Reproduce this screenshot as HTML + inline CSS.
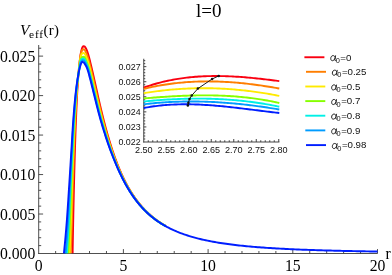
<!DOCTYPE html>
<html><head><meta charset="utf-8"><title>l=0</title>
<style>
html,body{margin:0;padding:0;background:#fff;}
body{width:392px;height:275px;overflow:hidden;}
svg{display:block;will-change:transform;opacity:0.999;}
text{font-family:"Liberation Sans",sans-serif;fill:#111;}
.se{font-family:"Liberation Serif",serif;fill:#000;}
</style></head><body>
<svg width="392" height="275" viewBox="0 0 392 275">
<rect width="392" height="275" fill="#fff"/>

<g>
<line x1="38.70" y1="45.00" x2="38.70" y2="253.95" stroke="#3c3c3c" stroke-width="0.90"/>
<line x1="38.25" y1="253.50" x2="377.60" y2="253.50" stroke="#3c3c3c" stroke-width="0.90"/>
<line x1="38.70" y1="245.60" x2="41.20" y2="245.60" stroke="#3c3c3c" stroke-width="0.90"/>
<line x1="38.70" y1="237.71" x2="41.20" y2="237.71" stroke="#3c3c3c" stroke-width="0.90"/>
<line x1="38.70" y1="229.81" x2="41.20" y2="229.81" stroke="#3c3c3c" stroke-width="0.90"/>
<line x1="38.70" y1="221.92" x2="41.20" y2="221.92" stroke="#3c3c3c" stroke-width="0.90"/>
<line x1="38.70" y1="214.03" x2="43.10" y2="214.03" stroke="#3c3c3c" stroke-width="0.90"/>
<line x1="38.70" y1="206.13" x2="41.20" y2="206.13" stroke="#3c3c3c" stroke-width="0.90"/>
<line x1="38.70" y1="198.24" x2="41.20" y2="198.24" stroke="#3c3c3c" stroke-width="0.90"/>
<line x1="38.70" y1="190.34" x2="41.20" y2="190.34" stroke="#3c3c3c" stroke-width="0.90"/>
<line x1="38.70" y1="182.44" x2="41.20" y2="182.44" stroke="#3c3c3c" stroke-width="0.90"/>
<line x1="38.70" y1="174.55" x2="43.10" y2="174.55" stroke="#3c3c3c" stroke-width="0.90"/>
<line x1="38.70" y1="166.66" x2="41.20" y2="166.66" stroke="#3c3c3c" stroke-width="0.90"/>
<line x1="38.70" y1="158.76" x2="41.20" y2="158.76" stroke="#3c3c3c" stroke-width="0.90"/>
<line x1="38.70" y1="150.87" x2="41.20" y2="150.87" stroke="#3c3c3c" stroke-width="0.90"/>
<line x1="38.70" y1="142.97" x2="41.20" y2="142.97" stroke="#3c3c3c" stroke-width="0.90"/>
<line x1="38.70" y1="135.07" x2="43.10" y2="135.07" stroke="#3c3c3c" stroke-width="0.90"/>
<line x1="38.70" y1="127.18" x2="41.20" y2="127.18" stroke="#3c3c3c" stroke-width="0.90"/>
<line x1="38.70" y1="119.28" x2="41.20" y2="119.28" stroke="#3c3c3c" stroke-width="0.90"/>
<line x1="38.70" y1="111.39" x2="41.20" y2="111.39" stroke="#3c3c3c" stroke-width="0.90"/>
<line x1="38.70" y1="103.50" x2="41.20" y2="103.50" stroke="#3c3c3c" stroke-width="0.90"/>
<line x1="38.70" y1="95.60" x2="43.10" y2="95.60" stroke="#3c3c3c" stroke-width="0.90"/>
<line x1="38.70" y1="87.70" x2="41.20" y2="87.70" stroke="#3c3c3c" stroke-width="0.90"/>
<line x1="38.70" y1="79.81" x2="41.20" y2="79.81" stroke="#3c3c3c" stroke-width="0.90"/>
<line x1="38.70" y1="71.91" x2="41.20" y2="71.91" stroke="#3c3c3c" stroke-width="0.90"/>
<line x1="38.70" y1="64.02" x2="41.20" y2="64.02" stroke="#3c3c3c" stroke-width="0.90"/>
<line x1="38.70" y1="56.12" x2="43.10" y2="56.12" stroke="#3c3c3c" stroke-width="0.90"/>
<line x1="38.70" y1="48.23" x2="41.20" y2="48.23" stroke="#3c3c3c" stroke-width="0.90"/>
<line x1="55.64" y1="253.50" x2="55.64" y2="251.00" stroke="#3c3c3c" stroke-width="0.90"/>
<line x1="72.58" y1="253.50" x2="72.58" y2="251.00" stroke="#3c3c3c" stroke-width="0.90"/>
<line x1="89.52" y1="253.50" x2="89.52" y2="251.00" stroke="#3c3c3c" stroke-width="0.90"/>
<line x1="106.46" y1="253.50" x2="106.46" y2="251.00" stroke="#3c3c3c" stroke-width="0.90"/>
<line x1="123.40" y1="253.50" x2="123.40" y2="249.10" stroke="#3c3c3c" stroke-width="0.90"/>
<line x1="140.34" y1="253.50" x2="140.34" y2="251.00" stroke="#3c3c3c" stroke-width="0.90"/>
<line x1="157.28" y1="253.50" x2="157.28" y2="251.00" stroke="#3c3c3c" stroke-width="0.90"/>
<line x1="174.22" y1="253.50" x2="174.22" y2="251.00" stroke="#3c3c3c" stroke-width="0.90"/>
<line x1="191.16" y1="253.50" x2="191.16" y2="251.00" stroke="#3c3c3c" stroke-width="0.90"/>
<line x1="208.10" y1="253.50" x2="208.10" y2="249.10" stroke="#3c3c3c" stroke-width="0.90"/>
<line x1="225.04" y1="253.50" x2="225.04" y2="251.00" stroke="#3c3c3c" stroke-width="0.90"/>
<line x1="241.98" y1="253.50" x2="241.98" y2="251.00" stroke="#3c3c3c" stroke-width="0.90"/>
<line x1="258.92" y1="253.50" x2="258.92" y2="251.00" stroke="#3c3c3c" stroke-width="0.90"/>
<line x1="275.86" y1="253.50" x2="275.86" y2="251.00" stroke="#3c3c3c" stroke-width="0.90"/>
<line x1="292.80" y1="253.50" x2="292.80" y2="249.10" stroke="#3c3c3c" stroke-width="0.90"/>
<line x1="309.74" y1="253.50" x2="309.74" y2="251.00" stroke="#3c3c3c" stroke-width="0.90"/>
<line x1="326.68" y1="253.50" x2="326.68" y2="251.00" stroke="#3c3c3c" stroke-width="0.90"/>
<line x1="343.62" y1="253.50" x2="343.62" y2="251.00" stroke="#3c3c3c" stroke-width="0.90"/>
<line x1="360.56" y1="253.50" x2="360.56" y2="251.00" stroke="#3c3c3c" stroke-width="0.90"/>
<line x1="377.50" y1="253.50" x2="377.50" y2="249.10" stroke="#3c3c3c" stroke-width="0.90"/>
</g>
<g fill="none" stroke-width="1.95" stroke-linejoin="round" stroke-linecap="butt">
<path d="M72.58 253.30 L72.60 252.01 L72.62 250.72 L72.65 249.43 L72.67 248.14 L72.69 246.85 L72.71 245.56 L72.74 244.27 L72.76 242.98 L72.78 241.69 L72.81 240.39 L72.83 239.10 L72.86 237.81 L72.88 236.52 L72.90 235.23 L72.93 233.94 L72.95 232.65 L72.98 231.36 L73.00 230.07 L73.03 228.78 L73.05 227.49 L73.08 226.20 L73.10 224.91 L73.13 223.62 L73.15 222.33 L73.18 221.04 L73.20 219.75 L73.23 218.46 L73.26 217.17 L73.28 215.87 L73.31 214.58 L73.33 213.29 L73.36 212.00 L73.39 210.71 L73.42 209.42 L73.44 208.13 L73.47 206.84 L73.50 205.55 L73.53 204.26 L73.55 202.97 L73.58 201.68 L73.61 200.39 L73.64 199.10 L73.67 197.81 L73.70 196.52 L73.73 195.23 L73.75 193.94 L73.78 192.65 L73.81 191.36 L73.84 190.07 L73.88 188.78 L73.91 187.49 L73.94 186.19 L73.97 184.90 L74.00 183.61 L74.03 182.32 L74.06 181.03 L74.09 179.74 L74.13 178.45 L74.16 177.16 L74.19 175.87 L74.22 174.58 L74.26 173.29 L74.29 172.00 L74.32 170.71 L74.36 169.42 L74.39 168.13 L74.43 166.84 L74.46 165.55 L74.50 164.26 L74.53 162.97 L74.57 161.68 L74.60 160.39 L74.64 159.10 L74.68 157.81 L74.71 156.52 L74.75 155.23 L74.79 153.94 L74.83 152.65 L74.87 151.36 L74.91 150.07 L74.94 148.78 L74.98 147.49 L75.02 146.20 L75.06 144.91 L75.11 143.62 L75.15 142.33 L75.19 141.04 L75.23 139.75 L75.27 138.46 L75.32 137.17 L75.36 135.88 L75.40 134.59 L75.45 133.30 L75.49 132.01 L75.54 130.72 L75.58 129.43 L75.63 128.14 L75.68 126.85 L75.73 125.56 L75.78 124.27 L75.83 122.98 L75.88 121.69 L75.93 120.40 L75.98 119.11 L76.03 117.82 L76.08 116.53 L76.14 115.24 L76.19 113.95 L76.24 112.66 L76.30 111.37 L76.36 110.08 L76.41 108.79 L76.47 107.50 L76.53 106.21 L76.59 104.92 L76.65 103.63 L76.71 102.34 L76.78 101.05 L76.84 99.76 L76.91 98.48 L76.97 97.19 L77.04 95.90 L77.11 94.61 L77.18 93.32 L77.25 92.03 L77.32 90.74 L77.40 89.45 L77.47 88.17 L77.55 86.88 L77.63 85.59 L77.71 84.30 L77.79 83.01 L77.87 81.72 L77.96 80.43 L78.05 79.15 L78.14 77.86 L78.24 76.57 L78.34 75.28 L78.44 74.00 L78.55 72.71 L78.66 71.43 L78.77 70.14 L78.89 68.86 L79.01 67.57 L79.14 66.28 L79.27 65.00 L79.41 63.71 L79.56 62.43 L79.71 61.14 L79.87 59.86 L80.04 58.58 L80.22 57.30 L80.41 56.02 L80.61 54.75 L80.82 53.48 L81.04 52.21 L81.30 50.95 L81.62 49.69 L82.00 48.46 L82.51 47.24 L83.35 46.23 L84.54 46.46 L85.37 47.46 L86.05 48.57 L86.58 49.73 L87.04 50.94 L87.46 52.17 L87.85 53.40 L88.24 54.63 L88.60 55.87 L88.95 57.12 L89.28 58.36 L89.61 59.61 L89.94 60.86 L90.25 62.11 L90.56 63.37 L90.86 64.62 L91.16 65.88 L91.46 67.13 L91.76 68.39 L92.05 69.65 L92.34 70.90 L92.62 72.16 L92.91 73.42 L93.19 74.68 L93.48 75.94 L93.76 77.20 L94.04 78.46 L94.32 79.72 L94.60 80.98 L94.88 82.24 L95.16 83.50 L95.44 84.76 L95.72 86.02 L96.00 87.28 L96.28 88.54 L96.56 89.80 L96.84 91.06 L97.12 92.32 L97.40 93.58 L97.68 94.84 L97.97 96.10 L98.25 97.36 L98.54 98.61 L98.83 99.87 L99.12 101.13 L99.41 102.39 L99.70 103.65 L99.99 104.90 L100.29 106.16 L100.58 107.42 L100.88 108.67 L101.18 109.93 L101.48 111.18 L101.79 112.44 L102.09 113.69 L102.40 114.94 L102.71 116.20 L103.02 117.45 L103.34 118.70 L103.65 119.95 L103.97 121.20 L104.30 122.45 L104.62 123.70 L104.95 124.95 L105.28 126.20 L105.61 127.45 L105.95 128.69 L106.29 129.94 L106.63 131.18 L106.98 132.42 L107.33 133.67 L107.68 134.91 L108.04 136.15 L108.40 137.39 L108.76 138.63 L109.13 139.86 L109.50 141.10 L109.88 142.34 L110.26 143.57 L110.64 144.80 L111.03 146.03 L111.42 147.26 L111.82 148.49 L112.22 149.72 L112.63 150.94 L113.04 152.16 L113.46 153.39 L113.88 154.61 L114.31 155.82 L114.74 157.04 L115.18 158.25 L115.63 159.46 L116.08 160.67 L116.53 161.88 L117.00 163.09 L117.47 164.29 L117.94 165.49 L118.42 166.69 L118.91 167.88 L119.41 169.07 L119.92 170.26 L120.43 171.44 L120.95 172.63 L121.47 173.80 L122.01 174.98 L122.55 176.15 L123.10 177.32 L123.66 178.48 L124.23 179.64 L124.80 180.79 L125.39 181.94 L125.99 183.09 L126.59 184.23 L127.21 185.37 L127.83 186.50 L128.46 187.62 L129.11 188.74 L129.77 189.85 L130.43 190.95 L131.11 192.05 L131.80 193.15 L132.50 194.23 L133.21 195.31 L133.93 196.38 L134.66 197.44 L135.41 198.49 L136.17 199.54 L136.94 200.57 L137.72 201.60 L138.51 202.62 L139.32 203.62 L140.14 204.62 L140.97 205.61 L141.82 206.58 L142.68 207.55 L143.55 208.50 L144.43 209.44 L145.33 210.37 L146.24 211.28 L147.16 212.19 L148.10 213.08 L149.05 213.95 L150.01 214.82 L150.98 215.66 L151.96 216.50 L152.96 217.32 L153.97 218.13 L154.98 218.92 L156.02 219.70 L157.06 220.46 L158.11 221.21 L159.17 221.94 L160.24 222.66 L161.33 223.36 L162.42 224.05 L163.52 224.72 L164.63 225.38 L165.75 226.02" stroke="#fa0010"/>
<path d="M70.79 253.30 L70.83 252.03 L70.88 250.75 L70.92 249.48 L70.96 248.21 L71.00 246.94 L71.05 245.66 L71.09 244.39 L71.13 243.12 L71.17 241.84 L71.21 240.57 L71.25 239.30 L71.30 238.02 L71.34 236.75 L71.38 235.48 L71.42 234.21 L71.46 232.93 L71.50 231.66 L71.54 230.39 L71.58 229.11 L71.62 227.84 L71.66 226.57 L71.70 225.29 L71.73 224.02 L71.77 222.75 L71.81 221.48 L71.85 220.20 L71.89 218.93 L71.92 217.66 L71.96 216.38 L71.99 215.11 L72.03 213.84 L72.07 212.56 L72.10 211.29 L72.14 210.02 L72.17 208.74 L72.21 207.47 L72.24 206.20 L72.28 204.92 L72.32 203.65 L72.35 202.38 L72.39 201.11 L72.42 199.83 L72.46 198.56 L72.50 197.29 L72.53 196.01 L72.57 194.74 L72.61 193.47 L72.65 192.19 L72.68 190.92 L72.72 189.65 L72.76 188.37 L72.80 187.10 L72.84 185.83 L72.88 184.56 L72.92 183.28 L72.96 182.01 L73.00 180.74 L73.04 179.46 L73.08 178.19 L73.12 176.92 L73.16 175.64 L73.20 174.37 L73.24 173.10 L73.28 171.83 L73.32 170.55 L73.36 169.28 L73.41 168.01 L73.45 166.73 L73.49 165.46 L73.53 164.19 L73.58 162.91 L73.62 161.64 L73.66 160.37 L73.71 159.10 L73.75 157.82 L73.80 156.55 L73.84 155.28 L73.89 154.00 L73.94 152.73 L73.98 151.46 L74.03 150.19 L74.08 148.91 L74.12 147.64 L74.17 146.37 L74.22 145.10 L74.27 143.82 L74.32 142.55 L74.37 141.28 L74.42 140.00 L74.47 138.73 L74.52 137.46 L74.57 136.19 L74.62 134.91 L74.67 133.64 L74.73 132.37 L74.78 131.10 L74.83 129.82 L74.89 128.55 L74.95 127.28 L75.00 126.01 L75.06 124.73 L75.12 123.46 L75.18 122.19 L75.24 120.92 L75.30 119.65 L75.36 118.37 L75.43 117.10 L75.49 115.83 L75.55 114.56 L75.62 113.29 L75.69 112.01 L75.75 110.74 L75.82 109.47 L75.89 108.20 L75.96 106.93 L76.03 105.65 L76.11 104.38 L76.18 103.11 L76.26 101.84 L76.34 100.57 L76.41 99.30 L76.49 98.03 L76.58 96.75 L76.66 95.48 L76.75 94.21 L76.83 92.94 L76.92 91.67 L77.01 90.40 L77.11 89.13 L77.21 87.86 L77.31 86.59 L77.41 85.32 L77.52 84.05 L77.63 82.79 L77.74 81.52 L77.86 80.25 L77.98 78.98 L78.10 77.71 L78.22 76.44 L78.35 75.18 L78.48 73.91 L78.61 72.64 L78.74 71.38 L78.88 70.11 L79.00 68.84 L79.13 67.57 L79.25 66.29 L79.37 65.01 L79.50 63.73 L79.63 62.46 L79.77 61.18 L79.92 59.91 L80.08 58.65 L80.26 57.39 L80.45 56.14 L80.67 54.89 L80.91 53.66 L81.19 52.44 L81.63 51.23 L82.20 50.06 L83.09 49.21 L84.26 49.46 L85.05 50.45 L85.64 51.58 L86.15 52.75 L86.63 53.93 L87.08 55.13 L87.51 56.33 L87.91 57.53 L88.29 58.75 L88.64 59.97 L88.98 61.20 L89.31 62.43 L89.64 63.66 L89.96 64.90 L90.27 66.13 L90.57 67.37 L90.88 68.61 L91.18 69.84 L91.48 71.08 L91.77 72.32 L92.06 73.56 L92.35 74.80 L92.64 76.04 L92.92 77.28 L93.21 78.52 L93.49 79.77 L93.78 81.01 L94.06 82.25 L94.34 83.49 L94.62 84.73 L94.91 85.98 L95.19 87.22 L95.47 88.46 L95.75 89.70 L96.03 90.94 L96.32 92.18 L96.60 93.43 L96.89 94.67 L97.17 95.91 L97.46 97.15 L97.75 98.39 L98.03 99.63 L98.32 100.87 L98.62 102.11 L98.91 103.35 L99.20 104.59 L99.50 105.83 L99.80 107.07 L100.10 108.31 L100.40 109.54 L100.70 110.78 L101.01 112.02 L101.32 113.25 L101.63 114.49 L101.94 115.72 L102.26 116.96 L102.57 118.19 L102.89 119.42 L103.22 120.65 L103.54 121.88 L103.87 123.12 L104.20 124.35 L104.53 125.58 L104.87 126.80 L105.21 128.03 L105.55 129.26 L105.89 130.49 L106.24 131.71 L106.59 132.94 L106.94 134.16 L107.30 135.38 L107.66 136.60 L108.02 137.82 L108.39 139.04 L108.76 140.26 L109.14 141.48 L109.52 142.69 L109.90 143.91 L110.29 145.12 L110.68 146.33 L111.08 147.54 L111.48 148.75 L111.89 149.96 L112.30 151.16 L112.71 152.37 L113.13 153.57 L113.56 154.77 L113.99 155.97 L114.43 157.17 L114.87 158.36 L115.31 159.55 L115.77 160.74 L116.22 161.93 L116.69 163.12 L117.16 164.30 L117.63 165.49 L118.11 166.67 L118.60 167.84 L119.09 169.02 L119.60 170.19 L120.10 171.35 L120.62 172.52 L121.14 173.68 L121.67 174.84 L122.21 175.99 L122.76 177.14 L123.31 178.29 L123.88 179.43 L124.45 180.57 L125.03 181.70 L125.62 182.83 L126.22 183.96 L126.82 185.08 L127.44 186.19 L128.07 187.30 L128.70 188.40 L129.35 189.50 L130.01 190.59 L130.67 191.68 L131.35 192.75 L132.04 193.83 L132.74 194.89 L133.45 195.95 L134.17 197.00 L134.90 198.04 L135.65 199.07 L136.41 200.10 L137.17 201.11 L137.95 202.12 L138.75 203.12 L139.55 204.10 L140.37 205.08 L141.20 206.05 L142.04 207.00 L142.89 207.95 L143.76 208.88 L144.64 209.80 L145.53 210.71 L146.43 211.61 L147.35 212.50 L148.28 213.37 L149.22 214.23 L150.17 215.07 L151.13 215.91 L152.11 216.72 L153.10 217.53 L154.10 218.32 L155.10 219.10 L156.12 219.86 L157.16 220.61 L158.20 221.34 L159.25 222.06 L160.31 222.77 L161.38 223.46 L162.46 224.13 L163.55 224.79 L164.64 225.44 L165.75 226.07" stroke="#ff7e00"/>
<path d="M69.56 253.30 L69.61 252.05 L69.67 250.80 L69.73 249.55 L69.78 248.30 L69.84 247.05 L69.89 245.80 L69.95 244.54 L70.00 243.29 L70.05 242.04 L70.11 240.79 L70.16 239.54 L70.21 238.29 L70.26 237.04 L70.32 235.79 L70.37 234.54 L70.42 233.29 L70.47 232.04 L70.52 230.78 L70.57 229.53 L70.62 228.28 L70.67 227.03 L70.71 225.78 L70.76 224.53 L70.81 223.28 L70.85 222.03 L70.90 220.78 L70.94 219.52 L70.99 218.27 L71.03 217.02 L71.07 215.77 L71.12 214.52 L71.16 213.27 L71.20 212.02 L71.24 210.77 L71.28 209.51 L71.32 208.26 L71.37 207.01 L71.41 205.76 L71.45 204.51 L71.49 203.26 L71.53 202.01 L71.57 200.76 L71.61 199.50 L71.65 198.25 L71.69 197.00 L71.74 195.75 L71.78 194.50 L71.82 193.25 L71.87 192.00 L71.91 190.75 L71.95 189.49 L72.00 188.24 L72.04 186.99 L72.09 185.74 L72.13 184.49 L72.18 183.24 L72.22 181.99 L72.27 180.74 L72.31 179.48 L72.36 178.23 L72.40 176.98 L72.45 175.73 L72.49 174.48 L72.54 173.23 L72.58 171.98 L72.63 170.73 L72.68 169.48 L72.72 168.22 L72.77 166.97 L72.82 165.72 L72.87 164.47 L72.91 163.22 L72.96 161.97 L73.01 160.72 L73.06 159.47 L73.11 158.22 L73.16 156.96 L73.21 155.71 L73.26 154.46 L73.31 153.21 L73.36 151.96 L73.41 150.71 L73.47 149.46 L73.52 148.21 L73.57 146.96 L73.62 145.71 L73.68 144.46 L73.73 143.20 L73.78 141.95 L73.84 140.70 L73.89 139.45 L73.95 138.20 L74.00 136.95 L74.06 135.70 L74.12 134.45 L74.17 133.20 L74.23 131.95 L74.29 130.70 L74.35 129.45 L74.41 128.20 L74.48 126.95 L74.54 125.69 L74.60 124.44 L74.67 123.19 L74.73 121.94 L74.80 120.69 L74.87 119.44 L74.94 118.19 L75.01 116.94 L75.08 115.69 L75.15 114.44 L75.22 113.19 L75.29 111.94 L75.37 110.69 L75.44 109.44 L75.52 108.19 L75.60 106.94 L75.68 105.69 L75.76 104.44 L75.84 103.19 L75.92 101.95 L76.01 100.70 L76.10 99.45 L76.19 98.20 L76.28 96.95 L76.37 95.70 L76.47 94.45 L76.56 93.21 L76.66 91.96 L76.76 90.71 L76.87 89.46 L76.98 88.22 L77.09 86.97 L77.21 85.72 L77.33 84.48 L77.46 83.23 L77.59 81.99 L77.72 80.74 L77.85 79.50 L77.99 78.25 L78.13 77.01 L78.27 75.76 L78.42 74.52 L78.56 73.27 L78.71 72.03 L78.86 70.79 L79.01 69.54 L79.15 68.29 L79.28 67.02 L79.40 65.75 L79.54 64.49 L79.68 63.22 L79.83 61.96 L79.99 60.71 L80.18 59.48 L80.40 58.26 L80.64 57.06 L80.92 55.88 L81.32 54.73 L82.01 53.66 L82.97 52.92 L84.14 53.16 L84.94 54.14 L85.52 55.25 L86.00 56.42 L86.46 57.58 L86.93 58.74 L87.37 59.92 L87.78 61.10 L88.16 62.29 L88.51 63.49 L88.85 64.70 L89.17 65.91 L89.49 67.12 L89.81 68.33 L90.13 69.54 L90.43 70.75 L90.74 71.97 L91.04 73.18 L91.33 74.40 L91.63 75.62 L91.92 76.83 L92.21 78.05 L92.49 79.27 L92.78 80.49 L93.07 81.71 L93.35 82.93 L93.64 84.15 L93.92 85.37 L94.20 86.59 L94.49 87.81 L94.77 89.02 L95.06 90.24 L95.34 91.46 L95.63 92.68 L95.91 93.90 L96.20 95.12 L96.48 96.34 L96.77 97.56 L97.06 98.78 L97.34 100.00 L97.63 101.21 L97.92 102.43 L98.22 103.65 L98.51 104.87 L98.81 106.08 L99.11 107.30 L99.41 108.51 L99.71 109.73 L100.01 110.94 L100.32 112.16 L100.63 113.37 L100.95 114.58 L101.26 115.79 L101.58 117.00 L101.90 118.21 L102.22 119.42 L102.55 120.63 L102.87 121.84 L103.20 123.05 L103.54 124.26 L103.87 125.46 L104.21 126.67 L104.55 127.87 L104.90 129.08 L105.24 130.28 L105.59 131.48 L105.94 132.68 L106.30 133.88 L106.65 135.08 L107.02 136.28 L107.38 137.48 L107.75 138.68 L108.12 139.87 L108.50 141.07 L108.88 142.26 L109.26 143.45 L109.65 144.64 L110.04 145.83 L110.44 147.02 L110.84 148.20 L111.25 149.39 L111.66 150.57 L112.07 151.75 L112.49 152.93 L112.92 154.11 L113.35 155.28 L113.78 156.46 L114.22 157.63 L114.66 158.80 L115.11 159.97 L115.57 161.14 L116.02 162.30 L116.49 163.47 L116.96 164.63 L117.43 165.79 L117.91 166.94 L118.40 168.10 L118.89 169.25 L119.39 170.40 L119.89 171.54 L120.41 172.68 L120.93 173.82 L121.45 174.96 L121.99 176.09 L122.53 177.22 L123.08 178.34 L123.64 179.46 L124.21 180.58 L124.78 181.69 L125.36 182.80 L125.95 183.90 L126.55 185.00 L127.16 186.10 L127.78 187.19 L128.41 188.27 L129.05 189.35 L129.69 190.42 L130.35 191.48 L131.02 192.54 L131.69 193.60 L132.38 194.64 L133.08 195.68 L133.79 196.72 L134.51 197.74 L135.24 198.76 L135.98 199.76 L136.73 200.76 L137.50 201.76 L138.28 202.74 L139.06 203.71 L139.86 204.67 L140.68 205.63 L141.50 206.57 L142.34 207.50 L143.18 208.42 L144.04 209.33 L144.91 210.23 L145.80 211.12 L146.69 212.00 L147.60 212.86 L148.52 213.71 L149.45 214.55 L150.39 215.37 L151.34 216.19 L152.31 216.98 L153.28 217.77 L154.27 218.54 L155.26 219.30 L156.27 220.05 L157.28 220.78 L158.31 221.49 L159.35 222.20 L160.39 222.89 L161.45 223.56 L162.51 224.22 L163.58 224.87 L164.66 225.50 L165.75 226.12" stroke="#ffea00"/>
<path d="M68.19 253.30 L68.26 252.07 L68.33 250.84 L68.40 249.62 L68.47 248.39 L68.54 247.16 L68.61 245.93 L68.68 244.71 L68.75 243.48 L68.82 242.25 L68.88 241.02 L68.95 239.79 L69.01 238.57 L69.08 237.34 L69.14 236.11 L69.20 234.88 L69.27 233.65 L69.33 232.43 L69.39 231.20 L69.45 229.97 L69.51 228.74 L69.57 227.51 L69.63 226.29 L69.68 225.06 L69.74 223.83 L69.80 222.60 L69.85 221.37 L69.90 220.14 L69.96 218.92 L70.01 217.69 L70.06 216.46 L70.11 215.23 L70.16 214.00 L70.21 212.77 L70.26 211.54 L70.31 210.32 L70.35 209.09 L70.40 207.86 L70.45 206.63 L70.49 205.40 L70.54 204.17 L70.59 202.94 L70.64 201.71 L70.68 200.49 L70.73 199.26 L70.78 198.03 L70.83 196.80 L70.87 195.57 L70.92 194.34 L70.97 193.11 L71.02 191.88 L71.07 190.66 L71.12 189.43 L71.17 188.20 L71.22 186.97 L71.27 185.74 L71.32 184.51 L71.38 183.28 L71.43 182.06 L71.48 180.83 L71.53 179.60 L71.58 178.37 L71.63 177.14 L71.68 175.91 L71.73 174.68 L71.78 173.46 L71.83 172.23 L71.89 171.00 L71.94 169.77 L71.99 168.54 L72.04 167.31 L72.09 166.08 L72.15 164.86 L72.20 163.63 L72.25 162.40 L72.31 161.17 L72.36 159.94 L72.42 158.71 L72.47 157.49 L72.53 156.26 L72.58 155.03 L72.64 153.80 L72.70 152.57 L72.75 151.34 L72.81 150.12 L72.87 148.89 L72.93 147.66 L72.98 146.43 L73.04 145.20 L73.10 143.97 L73.16 142.75 L73.22 141.52 L73.28 140.29 L73.34 139.06 L73.40 137.83 L73.46 136.60 L73.52 135.38 L73.58 134.15 L73.64 132.92 L73.71 131.69 L73.77 130.46 L73.84 129.24 L73.90 128.01 L73.97 126.78 L74.04 125.55 L74.11 124.32 L74.18 123.10 L74.25 121.87 L74.32 120.64 L74.40 119.42 L74.47 118.19 L74.55 116.96 L74.63 115.73 L74.71 114.51 L74.78 113.28 L74.86 112.05 L74.95 110.82 L75.03 109.60 L75.11 108.37 L75.20 107.14 L75.29 105.91 L75.37 104.69 L75.46 103.46 L75.56 102.24 L75.65 101.01 L75.75 99.78 L75.84 98.56 L75.94 97.33 L76.05 96.11 L76.15 94.88 L76.26 93.66 L76.37 92.43 L76.48 91.21 L76.59 89.99 L76.71 88.76 L76.84 87.54 L76.96 86.32 L77.10 85.09 L77.23 83.87 L77.37 82.65 L77.52 81.43 L77.67 80.21 L77.82 78.99 L77.98 77.76 L78.13 76.55 L78.30 75.33 L78.46 74.11 L78.63 72.89 L78.80 71.67 L78.97 70.46 L79.13 69.22 L79.28 67.95 L79.42 66.66 L79.57 65.38 L79.73 64.10 L79.91 62.85 L80.12 61.63 L80.38 60.46 L80.68 59.36 L81.05 58.33 L81.90 57.45 L82.94 56.83 L84.12 57.00 L84.95 57.91 L85.51 59.01 L85.95 60.16 L86.39 61.31 L86.86 62.45 L87.31 63.60 L87.73 64.75 L88.11 65.92 L88.46 67.09 L88.79 68.28 L89.11 69.47 L89.42 70.66 L89.74 71.85 L90.05 73.04 L90.35 74.23 L90.65 75.42 L90.95 76.61 L91.25 77.81 L91.54 79.00 L91.83 80.20 L92.12 81.39 L92.41 82.59 L92.69 83.78 L92.98 84.98 L93.26 86.18 L93.55 87.37 L93.83 88.57 L94.12 89.76 L94.40 90.96 L94.69 92.16 L94.97 93.35 L95.26 94.55 L95.55 95.74 L95.83 96.94 L96.12 98.14 L96.41 99.33 L96.70 100.53 L96.99 101.72 L97.28 102.92 L97.57 104.11 L97.86 105.31 L98.16 106.50 L98.45 107.69 L98.75 108.88 L99.05 110.08 L99.36 111.27 L99.67 112.46 L99.98 113.65 L100.29 114.84 L100.61 116.03 L100.93 117.21 L101.25 118.40 L101.57 119.59 L101.90 120.77 L102.23 121.96 L102.56 123.14 L102.90 124.32 L103.24 125.50 L103.58 126.69 L103.92 127.87 L104.27 129.05 L104.62 130.22 L104.97 131.40 L105.33 132.58 L105.68 133.76 L106.04 134.93 L106.40 136.11 L106.77 137.28 L107.14 138.46 L107.51 139.63 L107.88 140.80 L108.26 141.97 L108.65 143.14 L109.04 144.30 L109.43 145.47 L109.83 146.63 L110.23 147.79 L110.64 148.95 L111.05 150.11 L111.46 151.27 L111.88 152.43 L112.31 153.58 L112.74 154.73 L113.17 155.88 L113.61 157.03 L114.05 158.18 L114.50 159.33 L114.95 160.47 L115.40 161.61 L115.86 162.75 L116.33 163.89 L116.80 165.03 L117.27 166.16 L117.75 167.30 L118.23 168.43 L118.72 169.55 L119.22 170.68 L119.72 171.80 L120.23 172.92 L120.75 174.03 L121.27 175.15 L121.80 176.26 L122.34 177.36 L122.89 178.46 L123.44 179.56 L124.00 180.66 L124.57 181.75 L125.15 182.83 L125.73 183.92 L126.32 184.99 L126.93 186.06 L127.54 187.13 L128.16 188.19 L128.78 189.25 L129.42 190.30 L130.07 191.35 L130.72 192.39 L131.39 193.42 L132.06 194.45 L132.75 195.47 L133.44 196.49 L134.15 197.49 L134.87 198.49 L135.60 199.48 L136.34 200.47 L137.09 201.44 L137.85 202.41 L138.62 203.36 L139.40 204.31 L140.20 205.25 L141.00 206.18 L141.82 207.10 L142.65 208.00 L143.49 208.90 L144.34 209.79 L145.20 210.67 L146.08 211.53 L146.96 212.38 L147.86 213.22 L148.77 214.05 L149.69 214.87 L150.62 215.67 L151.56 216.47 L152.51 217.25 L153.47 218.01 L154.44 218.77 L155.43 219.51 L156.42 220.23 L157.42 220.95 L158.43 221.65 L159.45 222.33 L160.48 223.01 L161.52 223.66 L162.56 224.31 L163.62 224.94 L164.68 225.56 L165.75 226.17" stroke="#86ff00"/>
<path d="M66.82 253.30 L66.90 252.08 L66.99 250.87 L67.08 249.65 L67.16 248.44 L67.25 247.22 L67.33 246.00 L67.42 244.79 L67.50 243.57 L67.58 242.35 L67.66 241.14 L67.74 239.92 L67.82 238.70 L67.90 237.49 L67.98 236.27 L68.06 235.05 L68.13 233.84 L68.21 232.62 L68.28 231.40 L68.35 230.19 L68.43 228.97 L68.50 227.75 L68.57 226.54 L68.64 225.32 L68.71 224.10 L68.77 222.89 L68.84 221.67 L68.91 220.45 L68.97 219.23 L69.03 218.02 L69.09 216.80 L69.16 215.58 L69.22 214.36 L69.28 213.15 L69.33 211.93 L69.39 210.71 L69.45 209.49 L69.51 208.28 L69.57 207.06 L69.62 205.84 L69.68 204.62 L69.74 203.40 L69.79 202.19 L69.85 200.97 L69.90 199.75 L69.96 198.53 L70.02 197.31 L70.07 196.10 L70.13 194.88 L70.19 193.66 L70.25 192.44 L70.31 191.23 L70.37 190.01 L70.42 188.79 L70.48 187.57 L70.54 186.36 L70.60 185.14 L70.66 183.92 L70.72 182.70 L70.78 181.48 L70.84 180.27 L70.89 179.05 L70.95 177.83 L71.01 176.61 L71.07 175.40 L71.13 174.18 L71.19 172.96 L71.25 171.74 L71.30 170.53 L71.36 169.31 L71.42 168.09 L71.48 166.87 L71.54 165.65 L71.60 164.44 L71.66 163.22 L71.72 162.00 L71.78 160.78 L71.84 159.57 L71.90 158.35 L71.97 157.13 L72.03 155.91 L72.09 154.70 L72.15 153.48 L72.22 152.26 L72.28 151.04 L72.34 149.83 L72.40 148.61 L72.47 147.39 L72.53 146.17 L72.59 144.96 L72.65 143.74 L72.72 142.52 L72.78 141.30 L72.84 140.09 L72.90 138.87 L72.97 137.65 L73.03 136.43 L73.10 135.22 L73.16 134.00 L73.23 132.78 L73.30 131.56 L73.37 130.35 L73.44 129.13 L73.51 127.91 L73.58 126.70 L73.65 125.48 L73.72 124.26 L73.80 123.05 L73.88 121.83 L73.96 120.61 L74.03 119.40 L74.12 118.18 L74.20 116.96 L74.28 115.75 L74.36 114.53 L74.45 113.31 L74.53 112.10 L74.62 110.88 L74.71 109.66 L74.80 108.45 L74.89 107.23 L74.98 106.02 L75.08 104.80 L75.18 103.58 L75.27 102.37 L75.38 101.15 L75.48 99.94 L75.58 98.72 L75.69 97.51 L75.80 96.30 L75.91 95.08 L76.03 93.87 L76.14 92.66 L76.26 91.45 L76.39 90.23 L76.51 89.02 L76.65 87.81 L76.78 86.60 L76.93 85.39 L77.07 84.18 L77.22 82.97 L77.38 81.76 L77.54 80.55 L77.70 79.34 L77.87 78.13 L78.04 76.92 L78.22 75.71 L78.40 74.51 L78.58 73.30 L78.77 72.10 L78.96 70.90 L79.14 69.68 L79.31 68.44 L79.48 67.18 L79.65 65.92 L79.84 64.68 L80.06 63.46 L80.33 62.28 L80.64 61.16 L81.02 60.11 L81.78 59.17 L82.83 58.58 L83.98 58.82 L84.80 59.76 L85.39 60.84 L85.86 61.96 L86.30 63.10 L86.77 64.23 L87.22 65.36 L87.65 66.50 L88.03 67.66 L88.38 68.82 L88.71 70.00 L89.03 71.18 L89.34 72.36 L89.66 73.53 L89.97 74.71 L90.27 75.89 L90.57 77.08 L90.87 78.26 L91.17 79.44 L91.46 80.62 L91.75 81.81 L92.04 82.99 L92.32 84.18 L92.61 85.36 L92.90 86.55 L93.18 87.73 L93.47 88.92 L93.75 90.10 L94.04 91.29 L94.32 92.47 L94.61 93.66 L94.90 94.84 L95.18 96.03 L95.47 97.21 L95.76 98.40 L96.05 99.58 L96.34 100.77 L96.63 101.95 L96.92 103.13 L97.21 104.32 L97.50 105.50 L97.79 106.68 L98.09 107.87 L98.39 109.05 L98.69 110.23 L99.00 111.41 L99.30 112.59 L99.61 113.77 L99.92 114.95 L100.24 116.13 L100.56 117.30 L100.88 118.48 L101.21 119.65 L101.54 120.83 L101.87 122.00 L102.20 123.17 L102.54 124.34 L102.88 125.51 L103.23 126.68 L103.57 127.85 L103.92 129.02 L104.27 130.19 L104.63 131.35 L104.98 132.52 L105.34 133.69 L105.70 134.85 L106.06 136.01 L106.43 137.18 L106.80 138.34 L107.17 139.50 L107.55 140.66 L107.93 141.82 L108.31 142.97 L108.70 144.13 L109.10 145.28 L109.50 146.43 L109.90 147.59 L110.31 148.73 L110.72 149.88 L111.13 151.03 L111.55 152.17 L111.98 153.32 L112.41 154.46 L112.84 155.60 L113.28 156.73 L113.72 157.87 L114.17 159.00 L114.62 160.14 L115.07 161.27 L115.53 162.40 L115.99 163.52 L116.46 164.65 L116.93 165.77 L117.41 166.90 L117.89 168.02 L118.38 169.14 L118.87 170.25 L119.37 171.36 L119.88 172.47 L120.39 173.58 L120.91 174.68 L121.43 175.78 L121.96 176.88 L122.50 177.97 L123.05 179.06 L123.61 180.15 L124.17 181.23 L124.74 182.31 L125.32 183.38 L125.90 184.45 L126.50 185.51 L127.10 186.57 L127.71 187.63 L128.33 188.68 L128.96 189.72 L129.59 190.76 L130.24 191.80 L130.90 192.82 L131.56 193.85 L132.24 194.86 L132.92 195.87 L133.62 196.87 L134.32 197.86 L135.04 198.85 L135.76 199.83 L136.50 200.80 L137.25 201.76 L138.01 202.72 L138.78 203.66 L139.56 204.60 L140.35 205.53 L141.16 206.44 L141.97 207.35 L142.80 208.25 L143.63 209.13 L144.48 210.01 L145.34 210.87 L146.21 211.73 L147.09 212.57 L147.98 213.40 L148.89 214.22 L149.80 215.03 L150.73 215.82 L151.66 216.60 L152.61 217.37 L153.56 218.13 L154.53 218.87 L155.50 219.61 L156.49 220.32 L157.48 221.03 L158.49 221.72 L159.50 222.40 L160.52 223.06 L161.55 223.72 L162.59 224.36 L163.63 224.98 L164.69 225.59 L165.75 226.19" stroke="#00f0e6"/>
<path d="M65.67 253.30 L65.77 252.09 L65.87 250.89 L65.97 249.68 L66.07 248.48 L66.16 247.27 L66.26 246.06 L66.35 244.86 L66.45 243.65 L66.54 242.45 L66.64 241.24 L66.73 240.03 L66.82 238.83 L66.91 237.62 L67.00 236.41 L67.09 235.21 L67.17 234.00 L67.26 232.79 L67.34 231.59 L67.43 230.38 L67.51 229.17 L67.59 227.97 L67.67 226.76 L67.75 225.55 L67.83 224.35 L67.90 223.14 L67.98 221.93 L68.05 220.72 L68.12 219.52 L68.20 218.31 L68.27 217.10 L68.33 215.89 L68.40 214.69 L68.47 213.48 L68.54 212.27 L68.60 211.06 L68.67 209.85 L68.73 208.65 L68.80 207.44 L68.86 206.23 L68.93 205.02 L68.99 203.81 L69.05 202.61 L69.11 201.40 L69.18 200.19 L69.24 198.98 L69.30 197.77 L69.37 196.57 L69.43 195.36 L69.50 194.15 L69.56 192.94 L69.62 191.73 L69.69 190.52 L69.76 189.32 L69.82 188.11 L69.89 186.90 L69.95 185.69 L70.02 184.48 L70.08 183.28 L70.15 182.07 L70.21 180.86 L70.27 179.65 L70.34 178.44 L70.40 177.24 L70.47 176.03 L70.53 174.82 L70.60 173.61 L70.66 172.40 L70.72 171.20 L70.79 169.99 L70.85 168.78 L70.92 167.57 L70.98 166.36 L71.05 165.16 L71.11 163.95 L71.18 162.74 L71.24 161.53 L71.31 160.32 L71.37 159.12 L71.44 157.91 L71.51 156.70 L71.57 155.49 L71.64 154.28 L71.71 153.08 L71.78 151.87 L71.84 150.66 L71.91 149.45 L71.98 148.25 L72.04 147.04 L72.11 145.83 L72.18 144.62 L72.24 143.41 L72.31 142.21 L72.37 141.00 L72.44 139.79 L72.51 138.58 L72.58 137.37 L72.64 136.17 L72.71 134.96 L72.78 133.75 L72.85 132.54 L72.92 131.33 L73.00 130.13 L73.07 128.92 L73.14 127.71 L73.22 126.50 L73.30 125.30 L73.38 124.09 L73.46 122.88 L73.54 121.68 L73.62 120.47 L73.70 119.26 L73.79 118.06 L73.88 116.85 L73.96 115.64 L74.05 114.44 L74.14 113.23 L74.23 112.02 L74.33 110.82 L74.42 109.61 L74.52 108.40 L74.61 107.20 L74.71 105.99 L74.81 104.78 L74.92 103.58 L75.02 102.37 L75.13 101.17 L75.24 99.96 L75.35 98.76 L75.46 97.55 L75.58 96.35 L75.70 95.15 L75.82 93.94 L75.95 92.74 L76.07 91.54 L76.21 90.34 L76.34 89.14 L76.48 87.94 L76.63 86.73 L76.78 85.53 L76.93 84.33 L77.09 83.13 L77.25 81.93 L77.42 80.73 L77.60 79.53 L77.78 78.34 L77.96 77.14 L78.15 75.94 L78.34 74.75 L78.54 73.56 L78.74 72.36 L78.95 71.17 L79.16 69.98 L79.36 68.76 L79.56 67.53 L79.76 66.30 L80.00 65.09 L80.28 63.91 L80.60 62.77 L81.00 61.70 L81.67 60.70 L82.72 60.12 L83.84 60.50 L84.65 61.42 L85.29 62.46 L85.82 63.54 L86.31 64.65 L86.79 65.77 L87.24 66.89 L87.65 68.03 L88.03 69.17 L88.38 70.33 L88.71 71.49 L89.02 72.66 L89.33 73.84 L89.64 75.00 L89.95 76.17 L90.26 77.34 L90.56 78.52 L90.85 79.69 L91.15 80.86 L91.44 82.04 L91.73 83.21 L92.02 84.39 L92.30 85.56 L92.59 86.74 L92.87 87.91 L93.16 89.09 L93.45 90.26 L93.73 91.44 L94.02 92.62 L94.30 93.79 L94.59 94.97 L94.88 96.14 L95.16 97.32 L95.45 98.49 L95.74 99.67 L96.03 100.84 L96.32 102.02 L96.61 103.19 L96.90 104.36 L97.19 105.54 L97.48 106.71 L97.78 107.89 L98.08 109.06 L98.38 110.23 L98.68 111.40 L98.99 112.57 L99.29 113.74 L99.61 114.91 L99.92 116.08 L100.24 117.25 L100.56 118.41 L100.89 119.58 L101.22 120.74 L101.55 121.90 L101.88 123.07 L102.22 124.23 L102.56 125.39 L102.91 126.55 L103.25 127.71 L103.60 128.87 L103.96 130.02 L104.31 131.18 L104.67 132.33 L105.03 133.49 L105.39 134.64 L105.75 135.80 L106.12 136.95 L106.49 138.10 L106.86 139.25 L107.24 140.40 L107.62 141.55 L108.00 142.70 L108.39 143.85 L108.78 144.99 L109.18 146.13 L109.58 147.27 L109.99 148.41 L110.40 149.55 L110.82 150.69 L111.24 151.82 L111.66 152.95 L112.09 154.09 L112.52 155.21 L112.96 156.34 L113.40 157.47 L113.85 158.59 L114.29 159.72 L114.75 160.84 L115.21 161.96 L115.67 163.08 L116.13 164.19 L116.60 165.31 L117.08 166.42 L117.55 167.53 L118.04 168.64 L118.52 169.75 L119.02 170.85 L119.52 171.95 L120.03 173.05 L120.54 174.15 L121.06 175.24 L121.59 176.33 L122.12 177.41 L122.66 178.50 L123.21 179.58 L123.77 180.65 L124.33 181.72 L124.90 182.79 L125.48 183.85 L126.07 184.91 L126.66 185.96 L127.26 187.01 L127.87 188.05 L128.49 189.09 L129.12 190.13 L129.76 191.16 L130.40 192.18 L131.06 193.20 L131.72 194.21 L132.40 195.21 L133.08 196.21 L133.78 197.20 L134.48 198.18 L135.19 199.16 L135.92 200.13 L136.66 201.09 L137.40 202.04 L138.16 202.98 L138.93 203.92 L139.71 204.85 L140.50 205.76 L141.30 206.67 L142.11 207.57 L142.93 208.45 L143.76 209.33 L144.61 210.20 L145.46 211.05 L146.33 211.90 L147.21 212.73 L148.10 213.55 L148.99 214.36 L149.90 215.16 L150.82 215.94 L151.75 216.72 L152.69 217.48 L153.64 218.23 L154.60 218.96 L155.57 219.69 L156.55 220.40 L157.54 221.10 L158.54 221.78 L159.54 222.45 L160.56 223.11 L161.58 223.76 L162.61 224.39 L163.65 225.01 L164.70 225.62 L165.75 226.21" stroke="#009cff"/>
<path d="M63.94 253.30 L64.13 251.44 L64.31 249.57 L64.50 247.71 L64.68 245.84 L64.86 243.97 L65.04 242.11 L65.21 240.24 L65.38 238.38 L65.55 236.51 L65.72 234.64 L65.88 232.78 L66.04 230.91 L66.20 229.04 L66.35 227.18 L66.50 225.31 L66.65 223.44 L66.79 221.57 L66.93 219.70 L67.07 217.84 L67.20 215.97 L67.33 214.10 L67.46 212.23 L67.59 210.36 L67.72 208.49 L67.84 206.62 L67.96 204.75 L68.08 202.88 L68.21 201.01 L68.33 199.14 L68.45 197.27 L68.57 195.40 L68.69 193.53 L68.81 191.66 L68.93 189.79 L69.05 187.92 L69.18 186.05 L69.30 184.18 L69.42 182.31 L69.53 180.44 L69.65 178.57 L69.77 176.70 L69.89 174.83 L70.00 172.96 L70.12 171.09 L70.24 169.22 L70.35 167.35 L70.47 165.48 L70.59 163.61 L70.70 161.74 L70.82 159.87 L70.93 158.00 L71.05 156.13 L71.17 154.26 L71.28 152.39 L71.40 150.51 L71.51 148.64 L71.63 146.77 L71.74 144.90 L71.85 143.03 L71.96 141.16 L72.06 139.29 L72.17 137.42 L72.29 135.55 L72.40 133.68 L72.51 131.81 L72.63 129.94 L72.75 128.07 L72.87 126.20 L73.00 124.33 L73.13 122.46 L73.27 120.59 L73.41 118.72 L73.55 116.85 L73.69 114.99 L73.84 113.12 L73.99 111.25 L74.15 109.38 L74.31 107.51 L74.47 105.64 L74.64 103.78 L74.81 101.91 L74.99 100.04 L75.18 98.18 L75.37 96.32 L75.57 94.45 L75.78 92.59 L75.99 90.73 L76.21 88.87 L76.44 87.01 L76.68 85.15 L76.93 83.29 L77.20 81.43 L77.48 79.57 L77.78 77.72 L78.09 75.87 L78.42 74.03 L78.78 72.19 L79.15 70.37 L79.56 68.53 L80.02 66.70 L80.57 64.90 L81.22 63.15 L82.39 61.74 L83.92 62.56 L84.94 64.15 L85.91 65.75 L86.72 67.43 L87.40 69.19 L88.00 70.96 L88.53 72.76 L89.02 74.57 L89.50 76.38 L89.98 78.19 L90.45 80.01 L90.92 81.82 L91.38 83.64 L91.83 85.46 L92.27 87.28 L92.72 89.10 L93.16 90.92 L93.61 92.74 L94.06 94.56 L94.51 96.38 L94.96 98.20 L95.41 100.01 L95.86 101.83 L96.31 103.65 L96.77 105.47 L97.23 107.29 L97.69 109.10 L98.16 110.92 L98.63 112.73 L99.11 114.54 L99.60 116.35 L100.10 118.16 L100.61 119.96 L101.13 121.76 L101.65 123.56 L102.19 125.35 L102.73 127.15 L103.28 128.94 L103.83 130.73 L104.39 132.52 L104.96 134.30 L105.53 136.09 L106.11 137.87 L106.70 139.65 L107.29 141.43 L107.89 143.20 L108.50 144.97 L109.13 146.74 L109.76 148.50 L110.41 150.26 L111.07 152.02 L111.74 153.77 L112.41 155.51 L113.10 157.26 L113.80 159.00 L114.51 160.73 L115.23 162.46 L115.95 164.19 L116.69 165.91 L117.43 167.63 L118.19 169.35 L118.96 171.06 L119.74 172.76 L120.54 174.45 L121.36 176.14 L122.19 177.82 L123.04 179.49 L123.90 181.15 L124.79 182.80 L125.69 184.45 L126.61 186.08 L127.55 187.70 L128.51 189.31 L129.50 190.90 L130.50 192.49 L131.52 194.05 L132.57 195.61 L133.64 197.15 L134.74 198.66 L135.86 200.17 L137.01 201.65 L138.18 203.11 L139.38 204.55 L140.60 205.97 L141.85 207.37 L143.13 208.74 L144.43 210.09 L145.76 211.41 L147.11 212.70 L148.49 213.97 L149.90 215.21 L151.33 216.42 L152.78 217.60 L154.26 218.75 L155.77 219.87 L157.29 220.96 L158.84 222.02 L160.40 223.05 L161.99 224.04 L163.60 225.01 L165.22 225.94 L166.86 226.85 L168.52 227.72 L170.19 228.56 L171.88 229.38 L173.58 230.17 L175.30 230.92 L177.02 231.66 L178.76 232.36 L180.50 233.04 L182.26 233.70 L184.02 234.33 L185.80 234.94 L187.58 235.52 L189.36 236.08 L191.16 236.62 L192.96 237.14 L194.76 237.64 L196.57 238.13 L198.39 238.59 L200.21 239.04 L202.03 239.46 L203.86 239.88 L205.69 240.28 L207.53 240.66 L209.36 241.03 L211.20 241.38 L213.05 241.73 L214.89 242.06 L216.74 242.38 L218.59 242.68 L220.44 242.98 L222.29 243.26 L224.14 243.54 L226.00 243.81 L227.85 244.06 L229.71 244.31 L231.57 244.55 L233.43 244.78 L235.29 245.00 L237.15 245.22 L239.01 245.43 L240.88 245.63 L242.74 245.82 L244.60 246.01 L246.47 246.19 L248.34 246.37 L250.20 246.54 L252.07 246.70 L253.94 246.86 L255.80 247.02 L257.67 247.17 L259.54 247.31 L261.41 247.45 L263.28 247.59 L265.15 247.72 L267.02 247.85 L268.88 247.97 L270.75 248.09 L272.63 248.21 L274.50 248.32 L276.37 248.43 L278.24 248.54 L280.11 248.64 L281.98 248.74 L283.85 248.84 L285.72 248.94 L287.59 249.03 L289.47 249.12 L291.34 249.21 L293.21 249.29 L295.08 249.37 L296.95 249.45 L298.83 249.53 L300.70 249.61 L302.57 249.68 L304.44 249.76 L306.32 249.83 L308.19 249.89 L310.06 249.96 L311.93 250.03 L313.81 250.09 L315.68 250.15 L317.55 250.21 L319.42 250.27 L321.30 250.33 L323.17 250.38 L325.04 250.44 L326.92 250.49 L328.79 250.54 L330.66 250.59 L332.54 250.64 L334.41 250.69 L336.28 250.74 L338.16 250.78 L340.03 250.83 L341.90 250.87 L343.78 250.91 L345.65 250.95 L347.52 250.99 L349.40 251.03 L351.27 251.07 L353.14 251.11 L355.02 251.15 L356.89 251.18 L358.76 251.22 L360.64 251.25 L362.51 251.29 L364.38 251.32 L366.26 251.35 L368.13 251.39 L370.01 251.42 L371.88 251.45 L373.75 251.48 L375.63 251.51 L377.50 251.53" stroke="#001eff"/>
</g>
<g>
<line x1="143.75" y1="58.75" x2="143.75" y2="142.47" stroke="#3c3c3c" stroke-width="0.95"/>
<line x1="143.28" y1="142.00" x2="279.40" y2="142.00" stroke="#3c3c3c" stroke-width="0.95"/>
<line x1="143.75" y1="138.99" x2="145.25" y2="138.99" stroke="#3c3c3c" stroke-width="0.95"/>
<line x1="143.75" y1="135.97" x2="145.25" y2="135.97" stroke="#3c3c3c" stroke-width="0.95"/>
<line x1="143.75" y1="132.96" x2="145.25" y2="132.96" stroke="#3c3c3c" stroke-width="0.95"/>
<line x1="143.75" y1="129.94" x2="145.25" y2="129.94" stroke="#3c3c3c" stroke-width="0.95"/>
<line x1="143.75" y1="126.93" x2="146.35" y2="126.93" stroke="#3c3c3c" stroke-width="0.95"/>
<line x1="143.75" y1="123.92" x2="145.25" y2="123.92" stroke="#3c3c3c" stroke-width="0.95"/>
<line x1="143.75" y1="120.90" x2="145.25" y2="120.90" stroke="#3c3c3c" stroke-width="0.95"/>
<line x1="143.75" y1="117.89" x2="145.25" y2="117.89" stroke="#3c3c3c" stroke-width="0.95"/>
<line x1="143.75" y1="114.87" x2="145.25" y2="114.87" stroke="#3c3c3c" stroke-width="0.95"/>
<line x1="143.75" y1="111.86" x2="146.35" y2="111.86" stroke="#3c3c3c" stroke-width="0.95"/>
<line x1="143.75" y1="108.85" x2="145.25" y2="108.85" stroke="#3c3c3c" stroke-width="0.95"/>
<line x1="143.75" y1="105.83" x2="145.25" y2="105.83" stroke="#3c3c3c" stroke-width="0.95"/>
<line x1="143.75" y1="102.82" x2="145.25" y2="102.82" stroke="#3c3c3c" stroke-width="0.95"/>
<line x1="143.75" y1="99.80" x2="145.25" y2="99.80" stroke="#3c3c3c" stroke-width="0.95"/>
<line x1="143.75" y1="96.79" x2="146.35" y2="96.79" stroke="#3c3c3c" stroke-width="0.95"/>
<line x1="143.75" y1="93.78" x2="145.25" y2="93.78" stroke="#3c3c3c" stroke-width="0.95"/>
<line x1="143.75" y1="90.76" x2="145.25" y2="90.76" stroke="#3c3c3c" stroke-width="0.95"/>
<line x1="143.75" y1="87.75" x2="145.25" y2="87.75" stroke="#3c3c3c" stroke-width="0.95"/>
<line x1="143.75" y1="84.73" x2="145.25" y2="84.73" stroke="#3c3c3c" stroke-width="0.95"/>
<line x1="143.75" y1="81.72" x2="146.35" y2="81.72" stroke="#3c3c3c" stroke-width="0.95"/>
<line x1="143.75" y1="78.71" x2="145.25" y2="78.71" stroke="#3c3c3c" stroke-width="0.95"/>
<line x1="143.75" y1="75.69" x2="145.25" y2="75.69" stroke="#3c3c3c" stroke-width="0.95"/>
<line x1="143.75" y1="72.68" x2="145.25" y2="72.68" stroke="#3c3c3c" stroke-width="0.95"/>
<line x1="143.75" y1="69.66" x2="145.25" y2="69.66" stroke="#3c3c3c" stroke-width="0.95"/>
<line x1="143.75" y1="66.65" x2="146.35" y2="66.65" stroke="#3c3c3c" stroke-width="0.95"/>
<line x1="143.75" y1="63.64" x2="145.25" y2="63.64" stroke="#3c3c3c" stroke-width="0.95"/>
<line x1="143.75" y1="60.62" x2="145.25" y2="60.62" stroke="#3c3c3c" stroke-width="0.95"/>
<line x1="148.25" y1="142.00" x2="148.25" y2="140.25" stroke="#3c3c3c" stroke-width="0.95"/>
<line x1="152.75" y1="142.00" x2="152.75" y2="140.25" stroke="#3c3c3c" stroke-width="0.95"/>
<line x1="157.25" y1="142.00" x2="157.25" y2="140.25" stroke="#3c3c3c" stroke-width="0.95"/>
<line x1="161.75" y1="142.00" x2="161.75" y2="140.25" stroke="#3c3c3c" stroke-width="0.95"/>
<line x1="166.25" y1="142.00" x2="166.25" y2="139.00" stroke="#3c3c3c" stroke-width="0.95"/>
<line x1="170.75" y1="142.00" x2="170.75" y2="140.25" stroke="#3c3c3c" stroke-width="0.95"/>
<line x1="175.25" y1="142.00" x2="175.25" y2="140.25" stroke="#3c3c3c" stroke-width="0.95"/>
<line x1="179.75" y1="142.00" x2="179.75" y2="140.25" stroke="#3c3c3c" stroke-width="0.95"/>
<line x1="184.25" y1="142.00" x2="184.25" y2="140.25" stroke="#3c3c3c" stroke-width="0.95"/>
<line x1="188.75" y1="142.00" x2="188.75" y2="139.00" stroke="#3c3c3c" stroke-width="0.95"/>
<line x1="193.25" y1="142.00" x2="193.25" y2="140.25" stroke="#3c3c3c" stroke-width="0.95"/>
<line x1="197.75" y1="142.00" x2="197.75" y2="140.25" stroke="#3c3c3c" stroke-width="0.95"/>
<line x1="202.25" y1="142.00" x2="202.25" y2="140.25" stroke="#3c3c3c" stroke-width="0.95"/>
<line x1="206.75" y1="142.00" x2="206.75" y2="140.25" stroke="#3c3c3c" stroke-width="0.95"/>
<line x1="211.25" y1="142.00" x2="211.25" y2="139.00" stroke="#3c3c3c" stroke-width="0.95"/>
<line x1="215.75" y1="142.00" x2="215.75" y2="140.25" stroke="#3c3c3c" stroke-width="0.95"/>
<line x1="220.25" y1="142.00" x2="220.25" y2="140.25" stroke="#3c3c3c" stroke-width="0.95"/>
<line x1="224.75" y1="142.00" x2="224.75" y2="140.25" stroke="#3c3c3c" stroke-width="0.95"/>
<line x1="229.25" y1="142.00" x2="229.25" y2="140.25" stroke="#3c3c3c" stroke-width="0.95"/>
<line x1="233.75" y1="142.00" x2="233.75" y2="139.00" stroke="#3c3c3c" stroke-width="0.95"/>
<line x1="238.25" y1="142.00" x2="238.25" y2="140.25" stroke="#3c3c3c" stroke-width="0.95"/>
<line x1="242.75" y1="142.00" x2="242.75" y2="140.25" stroke="#3c3c3c" stroke-width="0.95"/>
<line x1="247.25" y1="142.00" x2="247.25" y2="140.25" stroke="#3c3c3c" stroke-width="0.95"/>
<line x1="251.75" y1="142.00" x2="251.75" y2="140.25" stroke="#3c3c3c" stroke-width="0.95"/>
<line x1="256.25" y1="142.00" x2="256.25" y2="139.00" stroke="#3c3c3c" stroke-width="0.95"/>
<line x1="260.75" y1="142.00" x2="260.75" y2="140.25" stroke="#3c3c3c" stroke-width="0.95"/>
<line x1="265.25" y1="142.00" x2="265.25" y2="140.25" stroke="#3c3c3c" stroke-width="0.95"/>
<line x1="269.75" y1="142.00" x2="269.75" y2="140.25" stroke="#3c3c3c" stroke-width="0.95"/>
<line x1="274.25" y1="142.00" x2="274.25" y2="140.25" stroke="#3c3c3c" stroke-width="0.95"/>
<line x1="278.75" y1="142.00" x2="278.75" y2="139.00" stroke="#3c3c3c" stroke-width="0.95"/>
</g>
<g fill="none" stroke-width="1.9" stroke-linejoin="round">
<path d="M143.75 87.60 L145.47 87.00 L147.18 86.41 L148.90 85.84 L150.61 85.29 L152.33 84.76 L154.04 84.25 L155.76 83.76 L157.48 83.28 L159.19 82.82 L160.91 82.38 L162.62 81.95 L164.34 81.55 L166.05 81.15 L167.77 80.78 L169.49 80.42 L171.20 80.08 L172.92 79.75 L174.63 79.44 L176.35 79.14 L178.06 78.86 L179.78 78.59 L181.50 78.34 L183.21 78.10 L184.93 77.88 L186.64 77.67 L188.36 77.47 L190.07 77.29 L191.79 77.12 L193.51 76.96 L195.22 76.82 L196.94 76.69 L198.65 76.57 L200.37 76.47 L202.08 76.37 L203.80 76.29 L205.52 76.22 L207.23 76.16 L208.95 76.12 L210.66 76.08 L212.38 76.05 L214.09 76.04 L215.81 76.03 L217.52 76.04 L219.24 76.05 L220.96 76.08 L222.67 76.11 L224.39 76.15 L226.10 76.21 L227.82 76.27 L229.53 76.34 L231.25 76.41 L232.97 76.50 L234.68 76.59 L236.40 76.69 L238.11 76.80 L239.83 76.92 L241.54 77.04 L243.26 77.17 L244.98 77.31 L246.69 77.45 L248.41 77.60 L250.12 77.76 L251.84 77.92 L253.55 78.08 L255.27 78.26 L256.99 78.43 L258.70 78.62 L260.42 78.80 L262.13 78.99 L263.85 79.19 L265.56 79.39 L267.28 79.59 L269.00 79.80 L270.71 80.01 L272.43 80.22 L274.14 80.44 L275.86 80.66 L277.57 80.88 L279.29 81.10" stroke="#fa0010"/>
<path d="M143.75 88.90 L145.47 88.48 L147.18 88.08 L148.90 87.68 L150.61 87.30 L152.33 86.94 L154.04 86.58 L155.76 86.24 L157.48 85.92 L159.19 85.60 L160.91 85.30 L162.62 85.00 L164.34 84.73 L166.05 84.46 L167.77 84.20 L169.49 83.96 L171.20 83.73 L172.92 83.51 L174.63 83.30 L176.35 83.11 L178.06 82.92 L179.78 82.75 L181.50 82.58 L183.21 82.43 L184.93 82.29 L186.64 82.16 L188.36 82.04 L190.07 81.93 L191.79 81.84 L193.51 81.75 L195.22 81.67 L196.94 81.61 L198.65 81.55 L200.37 81.50 L202.08 81.47 L203.80 81.44 L205.52 81.42 L207.23 81.42 L208.95 81.42 L210.66 81.43 L212.38 81.45 L214.09 81.48 L215.81 81.52 L217.52 81.57 L219.24 81.63 L220.96 81.69 L222.67 81.77 L224.39 81.85 L226.10 81.95 L227.82 82.05 L229.53 82.16 L231.25 82.27 L232.97 82.40 L234.68 82.53 L236.40 82.67 L238.11 82.82 L239.83 82.98 L241.54 83.15 L243.26 83.32 L244.98 83.50 L246.69 83.68 L248.41 83.88 L250.12 84.08 L251.84 84.29 L253.55 84.50 L255.27 84.73 L256.99 84.96 L258.70 85.19 L260.42 85.43 L262.13 85.68 L263.85 85.94 L265.56 86.20 L267.28 86.47 L269.00 86.74 L270.71 87.02 L272.43 87.30 L274.14 87.59 L275.86 87.89 L277.57 88.19 L279.29 88.50" stroke="#ff7e00"/>
<path d="M143.75 93.20 L145.47 92.91 L147.18 92.64 L148.90 92.37 L150.61 92.11 L152.33 91.86 L154.04 91.62 L155.76 91.38 L157.48 91.16 L159.19 90.94 L160.91 90.73 L162.62 90.53 L164.34 90.34 L166.05 90.15 L167.77 89.98 L169.49 89.81 L171.20 89.65 L172.92 89.50 L174.63 89.36 L176.35 89.23 L178.06 89.10 L179.78 88.99 L181.50 88.88 L183.21 88.78 L184.93 88.69 L186.64 88.60 L188.36 88.53 L190.07 88.46 L191.79 88.40 L193.51 88.35 L195.22 88.31 L196.94 88.27 L198.65 88.25 L200.37 88.23 L202.08 88.22 L203.80 88.21 L205.52 88.22 L207.23 88.23 L208.95 88.26 L210.66 88.29 L212.38 88.32 L214.09 88.37 L215.81 88.42 L217.52 88.49 L219.24 88.56 L220.96 88.63 L222.67 88.72 L224.39 88.81 L226.10 88.91 L227.82 89.02 L229.53 89.14 L231.25 89.27 L232.97 89.40 L234.68 89.54 L236.40 89.69 L238.11 89.84 L239.83 90.01 L241.54 90.18 L243.26 90.36 L244.98 90.55 L246.69 90.74 L248.41 90.95 L250.12 91.16 L251.84 91.37 L253.55 91.60 L255.27 91.83 L256.99 92.08 L258.70 92.32 L260.42 92.58 L262.13 92.84 L263.85 93.12 L265.56 93.40 L267.28 93.68 L269.00 93.98 L270.71 94.28 L272.43 94.59 L274.14 94.90 L275.86 95.23 L277.57 95.56 L279.29 95.90" stroke="#ffea00"/>
<path d="M143.75 98.40 L145.47 98.26 L147.18 98.11 L148.90 97.97 L150.61 97.83 L152.33 97.70 L154.04 97.57 L155.76 97.44 L157.48 97.31 L159.19 97.18 L160.91 97.06 L162.62 96.94 L164.34 96.83 L166.05 96.71 L167.77 96.61 L169.49 96.50 L171.20 96.40 L172.92 96.30 L174.63 96.21 L176.35 96.12 L178.06 96.03 L179.78 95.95 L181.50 95.88 L183.21 95.81 L184.93 95.74 L186.64 95.68 L188.36 95.62 L190.07 95.57 L191.79 95.52 L193.51 95.48 L195.22 95.45 L196.94 95.42 L198.65 95.39 L200.37 95.37 L202.08 95.36 L203.80 95.35 L205.52 95.35 L207.23 95.36 L208.95 95.37 L210.66 95.39 L212.38 95.42 L214.09 95.45 L215.81 95.49 L217.52 95.54 L219.24 95.59 L220.96 95.65 L222.67 95.72 L224.39 95.80 L226.10 95.88 L227.82 95.97 L229.53 96.07 L231.25 96.18 L232.97 96.30 L234.68 96.42 L236.40 96.56 L238.11 96.70 L239.83 96.85 L241.54 97.01 L243.26 97.18 L244.98 97.35 L246.69 97.54 L248.41 97.74 L250.12 97.94 L251.84 98.16 L253.55 98.38 L255.27 98.62 L256.99 98.86 L258.70 99.11 L260.42 99.38 L262.13 99.65 L263.85 99.94 L265.56 100.24 L267.28 100.54 L269.00 100.86 L270.71 101.19 L272.43 101.53 L274.14 101.88 L275.86 102.24 L277.57 102.61 L279.29 103.00" stroke="#86ff00"/>
<path d="M143.75 101.50 L145.47 101.33 L147.18 101.16 L148.90 101.00 L150.61 100.85 L152.33 100.69 L154.04 100.55 L155.76 100.41 L157.48 100.27 L159.19 100.14 L160.91 100.01 L162.62 99.89 L164.34 99.77 L166.05 99.66 L167.77 99.55 L169.49 99.45 L171.20 99.36 L172.92 99.27 L174.63 99.18 L176.35 99.10 L178.06 99.03 L179.78 98.96 L181.50 98.90 L183.21 98.85 L184.93 98.80 L186.64 98.75 L188.36 98.71 L190.07 98.68 L191.79 98.65 L193.51 98.63 L195.22 98.62 L196.94 98.61 L198.65 98.61 L200.37 98.62 L202.08 98.63 L203.80 98.65 L205.52 98.67 L207.23 98.70 L208.95 98.74 L210.66 98.79 L212.38 98.84 L214.09 98.89 L215.81 98.96 L217.52 99.03 L219.24 99.11 L220.96 99.20 L222.67 99.29 L224.39 99.39 L226.10 99.50 L227.82 99.61 L229.53 99.73 L231.25 99.86 L232.97 100.00 L234.68 100.14 L236.40 100.29 L238.11 100.45 L239.83 100.62 L241.54 100.80 L243.26 100.98 L244.98 101.17 L246.69 101.37 L248.41 101.57 L250.12 101.79 L251.84 102.01 L253.55 102.24 L255.27 102.48 L256.99 102.72 L258.70 102.98 L260.42 103.24 L262.13 103.51 L263.85 103.79 L265.56 104.08 L267.28 104.38 L269.00 104.68 L270.71 105.00 L272.43 105.32 L274.14 105.65 L275.86 105.99 L277.57 106.34 L279.29 106.70" stroke="#00f0e6"/>
<path d="M143.75 104.30 L145.47 104.10 L147.18 103.90 L148.90 103.71 L150.61 103.53 L152.33 103.36 L154.04 103.20 L155.76 103.04 L157.48 102.89 L159.19 102.75 L160.91 102.62 L162.62 102.50 L164.34 102.38 L166.05 102.27 L167.77 102.17 L169.49 102.07 L171.20 101.98 L172.92 101.90 L174.63 101.83 L176.35 101.76 L178.06 101.71 L179.78 101.65 L181.50 101.61 L183.21 101.57 L184.93 101.54 L186.64 101.52 L188.36 101.50 L190.07 101.50 L191.79 101.49 L193.51 101.50 L195.22 101.51 L196.94 101.53 L198.65 101.55 L200.37 101.59 L202.08 101.62 L203.80 101.67 L205.52 101.72 L207.23 101.78 L208.95 101.84 L210.66 101.91 L212.38 101.99 L214.09 102.07 L215.81 102.16 L217.52 102.26 L219.24 102.36 L220.96 102.47 L222.67 102.59 L224.39 102.71 L226.10 102.83 L227.82 102.97 L229.53 103.10 L231.25 103.25 L232.97 103.40 L234.68 103.55 L236.40 103.72 L238.11 103.88 L239.83 104.06 L241.54 104.24 L243.26 104.42 L244.98 104.61 L246.69 104.80 L248.41 105.01 L250.12 105.21 L251.84 105.42 L253.55 105.64 L255.27 105.86 L256.99 106.09 L258.70 106.32 L260.42 106.56 L262.13 106.80 L263.85 107.05 L265.56 107.30 L267.28 107.56 L269.00 107.82 L270.71 108.09 L272.43 108.36 L274.14 108.64 L275.86 108.92 L277.57 109.21 L279.29 109.50" stroke="#009cff"/>
<path d="M143.75 108.00 L145.47 107.68 L147.18 107.37 L148.90 107.08 L150.61 106.81 L152.33 106.55 L154.04 106.30 L155.76 106.08 L157.48 105.86 L159.19 105.66 L160.91 105.48 L162.62 105.31 L164.34 105.16 L166.05 105.01 L167.77 104.88 L169.49 104.77 L171.20 104.67 L172.92 104.58 L174.63 104.50 L176.35 104.43 L178.06 104.38 L179.78 104.34 L181.50 104.31 L183.21 104.29 L184.93 104.28 L186.64 104.28 L188.36 104.29 L190.07 104.31 L191.79 104.35 L193.51 104.39 L195.22 104.44 L196.94 104.50 L198.65 104.57 L200.37 104.65 L202.08 104.73 L203.80 104.83 L205.52 104.93 L207.23 105.04 L208.95 105.15 L210.66 105.28 L212.38 105.41 L214.09 105.54 L215.81 105.68 L217.52 105.83 L219.24 105.99 L220.96 106.15 L222.67 106.31 L224.39 106.48 L226.10 106.66 L227.82 106.84 L229.53 107.02 L231.25 107.21 L232.97 107.40 L234.68 107.59 L236.40 107.79 L238.11 107.99 L239.83 108.19 L241.54 108.40 L243.26 108.61 L244.98 108.82 L246.69 109.03 L248.41 109.24 L250.12 109.45 L251.84 109.67 L253.55 109.88 L255.27 110.10 L256.99 110.31 L258.70 110.53 L260.42 110.74 L262.13 110.96 L263.85 111.17 L265.56 111.38 L267.28 111.59 L269.00 111.80 L270.71 112.01 L272.43 112.21 L274.14 112.41 L275.86 112.61 L277.57 112.81 L279.29 113.00" stroke="#001eff"/>
</g>
<path d="M218.70 75.90 L212.10 79.00 L197.90 88.60 L191.70 95.50 L189.50 99.00 L188.40 102.70 L187.85 105.60" fill="none" stroke="#111" stroke-width="0.95"/>
<circle cx="218.70" cy="75.90" r="1.25" fill="#111"/>
<circle cx="212.10" cy="79.00" r="1.25" fill="#111"/>
<circle cx="197.90" cy="88.60" r="1.25" fill="#111"/>
<circle cx="191.70" cy="95.50" r="1.25" fill="#111"/>
<circle cx="189.50" cy="99.00" r="1.25" fill="#111"/>
<circle cx="188.40" cy="102.70" r="1.25" fill="#111"/>
<circle cx="187.85" cy="105.60" r="1.25" fill="#111"/>
<text class="se" x="195.9" y="17.3" font-size="19">l=0</text>
<text class="se" x="19.9" y="35.4" font-size="15.5"><tspan font-style="italic">V</tspan></text>
<text class="se" x="29.0" y="37.6" font-size="11.4" letter-spacing="0.85">eff</text>
<text class="se" x="43.6" y="35.3" font-size="14.8" letter-spacing="0.3">(r)</text>
<text class="se" x="35.3" y="259.20" font-size="15.7" text-anchor="end">0.000</text>
<text class="se" x="35.3" y="219.72" font-size="15.7" text-anchor="end">0.005</text>
<text class="se" x="35.3" y="180.25" font-size="15.7" text-anchor="end">0.010</text>
<text class="se" x="35.3" y="140.77" font-size="15.7" text-anchor="end">0.015</text>
<text class="se" x="35.3" y="101.30" font-size="15.7" text-anchor="end">0.020</text>
<text class="se" x="35.3" y="61.83" font-size="15.7" text-anchor="end">0.025</text>
<text class="se" x="38.70" y="271.2" font-size="15.7" text-anchor="middle">0</text>
<text class="se" x="123.40" y="271.2" font-size="15.7" text-anchor="middle">5</text>
<text class="se" x="208.10" y="271.2" font-size="15.7" text-anchor="middle">10</text>
<text class="se" x="292.80" y="271.2" font-size="15.7" text-anchor="middle">15</text>
<text class="se" x="377.50" y="271.2" font-size="15.7" text-anchor="middle">20</text>
<text class="se" x="385.6" y="258.6" font-size="15.7">r</text>
<text x="140.6" y="145.30" font-size="8.9" text-anchor="end">0.022</text>
<text x="140.6" y="130.23" font-size="8.9" text-anchor="end">0.023</text>
<text x="140.6" y="115.16" font-size="8.9" text-anchor="end">0.024</text>
<text x="140.6" y="100.09" font-size="8.9" text-anchor="end">0.025</text>
<text x="140.6" y="85.02" font-size="8.9" text-anchor="end">0.026</text>
<text x="140.6" y="69.95" font-size="8.9" text-anchor="end">0.027</text>
<text x="143.75" y="153.4" font-size="9.1" text-anchor="middle">2.50</text>
<text x="166.25" y="153.4" font-size="9.1" text-anchor="middle">2.55</text>
<text x="188.75" y="153.4" font-size="9.1" text-anchor="middle">2.60</text>
<text x="211.25" y="153.4" font-size="9.1" text-anchor="middle">2.65</text>
<text x="233.75" y="153.4" font-size="9.1" text-anchor="middle">2.70</text>
<text x="256.25" y="153.4" font-size="9.1" text-anchor="middle">2.75</text>
<text x="278.75" y="153.4" font-size="9.1" text-anchor="middle">2.80</text>
<defs><g id="al" fill="none" stroke="#111" stroke-width="1.0" stroke-linecap="round" transform="translate(0.75 0.5) scale(0.93)"><path d="M5.2 0.2 C5.0 1.8 4.5 3.4 4.4 4.6 C4.35 5.4 4.8 5.6 5.5 5.3 M4.75 1.9 C4.5 0.7 3.6 0 2.5 0 C1.0 0 0 1.5 0 3.2 C0 4.6 0.7 5.5 1.8 5.5 C3.0 5.5 4.1 4.2 4.55 3.0"/></g></defs>
<line x1="304.40" y1="57.25" x2="324.40" y2="57.25" stroke="#fa0010" stroke-width="1.90"/>
<use href="#al" x="330.00" y="55.10"/>
<text x="335.70" y="60.60" font-size="9.7"><tspan font-size="7.4" dy="2.2">0</tspan><tspan dy="-2.2" dx="0.45">=0</tspan></text>
<line x1="306.00" y1="71.80" x2="326.00" y2="71.80" stroke="#ff7e00" stroke-width="1.90"/>
<use href="#al" x="331.60" y="69.65"/>
<text x="337.30" y="75.15" font-size="9.7"><tspan font-size="7.4" dy="2.2">0</tspan><tspan dy="-2.2" dx="0.45">=0.25</tspan></text>
<line x1="305.30" y1="86.50" x2="325.30" y2="86.50" stroke="#ffea00" stroke-width="1.90"/>
<use href="#al" x="330.90" y="84.35"/>
<text x="336.60" y="89.85" font-size="9.7"><tspan font-size="7.4" dy="2.2">0</tspan><tspan dy="-2.2" dx="0.45">=0.5</tspan></text>
<line x1="305.30" y1="101.10" x2="325.30" y2="101.10" stroke="#86ff00" stroke-width="1.90"/>
<use href="#al" x="330.90" y="98.95"/>
<text x="336.60" y="104.45" font-size="9.7"><tspan font-size="7.4" dy="2.2">0</tspan><tspan dy="-2.2" dx="0.45">=0.7</tspan></text>
<line x1="305.30" y1="115.70" x2="325.30" y2="115.70" stroke="#00f0e6" stroke-width="1.90"/>
<use href="#al" x="330.90" y="113.55"/>
<text x="336.60" y="119.05" font-size="9.7"><tspan font-size="7.4" dy="2.2">0</tspan><tspan dy="-2.2" dx="0.45">=0.8</tspan></text>
<line x1="305.30" y1="130.40" x2="325.30" y2="130.40" stroke="#009cff" stroke-width="1.90"/>
<use href="#al" x="330.90" y="128.25"/>
<text x="336.60" y="133.75" font-size="9.7"><tspan font-size="7.4" dy="2.2">0</tspan><tspan dy="-2.2" dx="0.45">=0.9</tspan></text>
<line x1="306.00" y1="145.10" x2="326.00" y2="145.10" stroke="#001eff" stroke-width="1.90"/>
<use href="#al" x="331.60" y="142.95"/>
<text x="337.30" y="148.45" font-size="9.7"><tspan font-size="7.4" dy="2.2">0</tspan><tspan dy="-2.2" dx="0.45">=0.98</tspan></text>
</svg></body></html>
